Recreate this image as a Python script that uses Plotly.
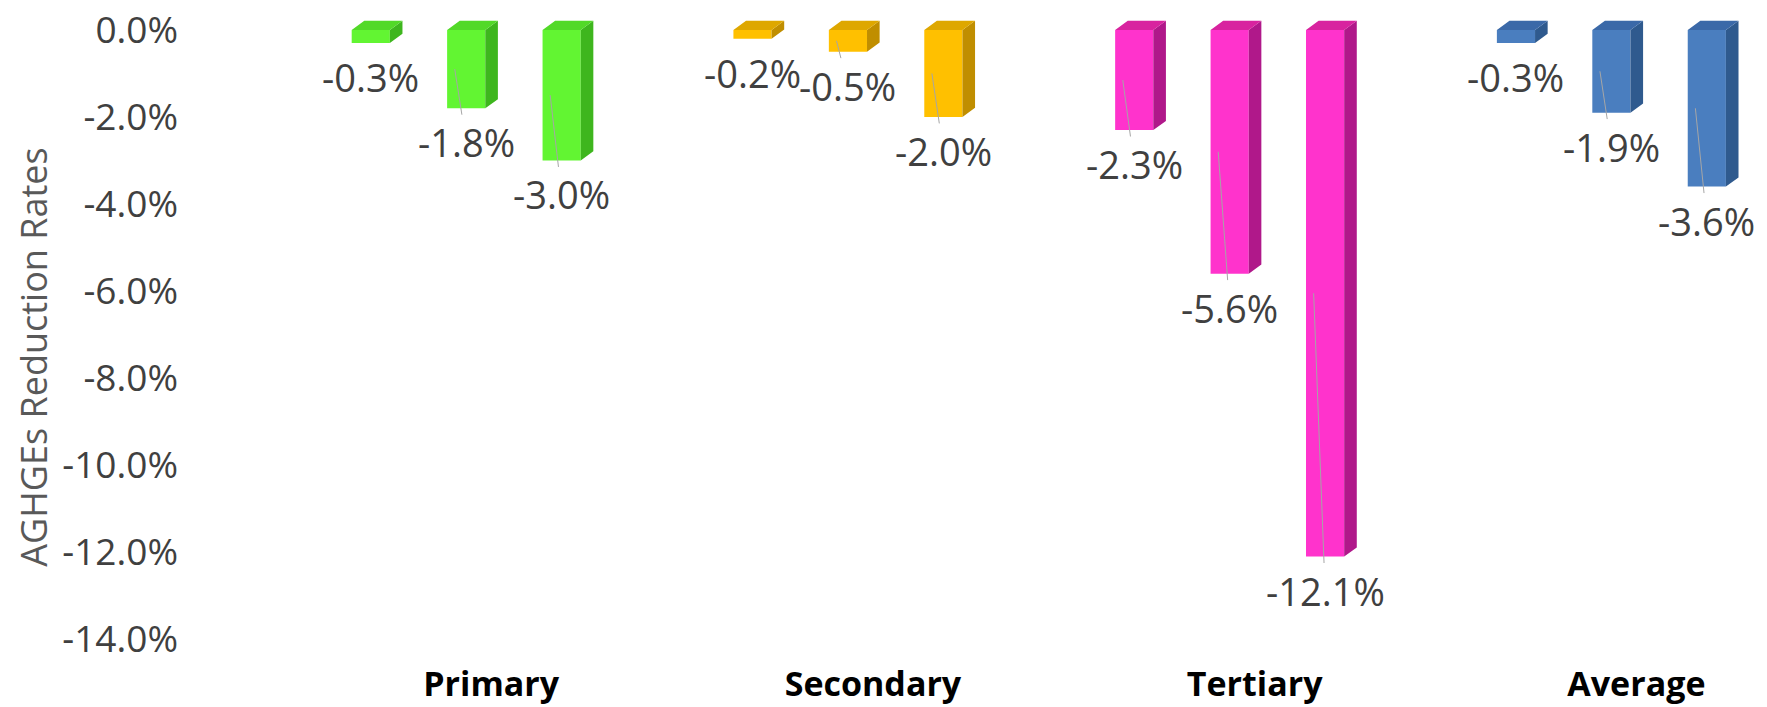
import plotly.graph_objects as go

# Sector groups along the x axis and the three reduction scenarios in each group (%)
categories = ["Primary", "Secondary", "Tertiary", "Average"]
scenario_1 = [-0.3, -0.2, -2.3, -0.3]
scenario_2 = [-1.8, -0.5, -5.6, -1.9]
scenario_3 = [-3.0, -2.0, -12.1, -3.6]
scenarios = [scenario_1, scenario_2, scenario_3]

y_tick_values = [0, -2, -4, -6, -8, -10, -12, -14]
y_tick_labels = ["0.0%", "-2.0%", "-4.0%", "-6.0%", "-8.0%", "-10.0%", "-12.0%", "-14.0%"]

# One colour family per sector: front face, side face, top face
front_colors = ["#62F532", "#FFC000", "#FF33CC", "#4A7EBF"]
side_colors = ["#3EB61E", "#C08E00", "#B0188A", "#2F5A8E"]
top_colors = ["#52D928", "#DEA700", "#D8239F", "#3B69A8"]

BAR_OFFSETS = [-0.25, 0.0, 0.25]
BAR_WIDTH = 0.1
DEPTH_X = 0.033   # extrusion of the 3D faces in x data units
DEPTH_Y = 0.21    # extrusion of the 3D faces in y data units
LABEL_DROP = 0.78

FONT = "Open Sans, Liberation Sans, sans-serif"

fig = go.Figure()

# Front faces of the bars
for s, values in enumerate(scenarios):
    fig.add_trace(go.Bar(
        x=[g + BAR_OFFSETS[s] for g in range(len(categories))],
        y=values,
        width=BAR_WIDTH,
        marker=dict(color=front_colors, line=dict(width=0)),
        hoverinfo="skip",
        showlegend=False,
    ))

# Side and top faces, one filled trace per colour family
for g in range(len(categories)):
    side_x, side_y, top_x, top_y = [], [], [], []
    for s, values in enumerate(scenarios):
        v = values[g]
        xl = g + BAR_OFFSETS[s] - BAR_WIDTH / 2
        xr = xl + BAR_WIDTH
        side_x += [xr, xr + DEPTH_X, xr + DEPTH_X, xr, xr, None]
        side_y += [0, DEPTH_Y, v + DEPTH_Y, v, 0, None]
        top_x += [xl, xr, xr + DEPTH_X, xl + DEPTH_X, xl, None]
        top_y += [0, 0, DEPTH_Y, DEPTH_Y, 0, None]
    fig.add_trace(go.Scatter(x=side_x, y=side_y, mode="lines", fill="toself",
                             fillcolor=side_colors[g], line=dict(width=0),
                             hoverinfo="skip", showlegend=False))
    fig.add_trace(go.Scatter(x=top_x, y=top_y, mode="lines", fill="toself",
                             fillcolor=top_colors[g], line=dict(width=0),
                             hoverinfo="skip", showlegend=False))

# Value labels below each bar; taller bars get a grey leader line into the bar
label_font = dict(family=FONT, size=38, color="#404040")
annotations = []
for s, values in enumerate(scenarios):
    for g, v in enumerate(values):
        bx = g + BAR_OFFSETS[s]
        if abs(v) >= 0.5:
            annotations.append(dict(
                x=bx - 0.03, y=v / 2, xref="x", yref="y",
                ax=bx, ay=v - LABEL_DROP, axref="x", ayref="y",
                text=f"{v:.1f}%", showarrow=True,
                arrowhead=0, arrowwidth=1, arrowcolor="#A6A6A6", standoff=0,
                font=label_font,
            ))
        else:
            annotations.append(dict(
                x=bx, y=v - LABEL_DROP, xref="x", yref="y",
                text=f"{v:.1f}%", showarrow=False,
                xanchor="center", yanchor="middle",
                font=label_font,
            ))

annotations.append(dict(
    text="AGHGEs Reduction Rates", textangle=-90,
    xref="paper", yref="paper", x=-0.107, y=0.464,
    xanchor="center", yanchor="middle", showarrow=False,
    font=dict(family=FONT, size=36, color="#595959"),
))

fig.update_layout(
    width=1767, height=707,
    margin=dict(l=199, r=22, t=6, b=46, autoexpand=False),
    paper_bgcolor="white", plot_bgcolor="white",
    barmode="overlay",
    showlegend=False,
    annotations=annotations,
    xaxis=dict(
        range=[-0.7, 3.35],
        tickvals=list(range(len(categories))),
        ticktext=[f"<b>{c}</b>" for c in categories],
        tickfont=dict(family=FONT, size=34, color="#000000"),
        ticklabelshift=25,
        ticklabelstandoff=0,
        automargin=False,
        showgrid=False, zeroline=False, showline=False, ticks="",
    ),
    yaxis=dict(
        range=[-14.5, 0.55],
        tickvals=y_tick_values,
        ticktext=y_tick_labels,
        tickfont=dict(family=FONT, size=37, color="#404040"),
        ticklabelstandoff=20,
        automargin=False,
        showgrid=False, zeroline=False, showline=False, ticks="",
    ),
)

fig.write_html("out.html")
